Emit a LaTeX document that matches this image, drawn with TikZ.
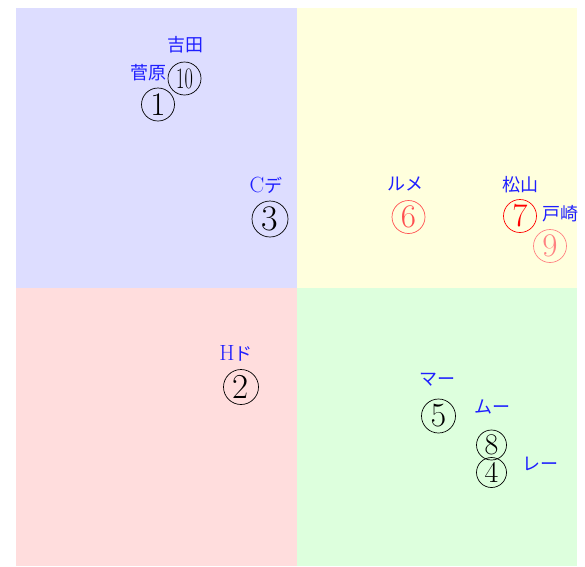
\documentclass[tikz,border=0pt]{standalone}
\usepackage{fontspec}
\newfontfamily\jp{Noto Sans CJK JP}
\definecolor{qblue}{RGB}{221,221,255}
\definecolor{qyellow}{RGB}{255,255,221}
\definecolor{qred}{RGB}{255,221,221}
\definecolor{qgreen}{RGB}{221,255,221}
\definecolor{lblue}{RGB}{30,30,255}
\definecolor{red6}{RGB}{255,80,80}
\definecolor{red9}{RGB}{255,130,130}
\newcommand{\bigLat}[1]{{\fontsize{22}{22}\selectfont #1}}
\tikzset{
  lbl/.style={text=lblue, font=\fontsize{18}{18}\selectfont, inner sep=0pt},
  cnum/.style={circle, draw, line width=0.7pt, inner sep=0pt, minimum size=#1pt,
    font=\fontsize{#1}{#1}\selectfont},
}
\begin{document}
\begin{tikzpicture}[x=1pt,y=-1pt]
\useasboundingbox (0,0) rectangle (585,566);
\fill[qblue] (16,8) rectangle (296.5,287.5);
\fill[qyellow] (296.5,8) rectangle (577,287.5);
\fill[qred] (16,287.5) rectangle (296.5,566);
\fill[qgreen] (296.5,287.5) rectangle (577,566);
% top-left
\node[lbl] (l10) at (185,45) {\jp 吉田};
\node[lbl] (l1) at (148,73) {\jp 菅原};
\node[cnum=33] (n10) at (184.5,78.5) {\scalebox{0.55}[0.9]{10}};
\node[cnum=33] (n1) at (158,104.5) {1};
\node[lbl] (l3) at (266,185) {\bigLat{C}{\jp デ}};
\node[cnum=36] (n3) at (270,219) {3};
% bottom-left
\node[lbl] (l2) at (236,353) {\bigLat{H}{\jp ド}};
\node[cnum=35] (n2) at (241,387) {2};
% top-right
\node[lbl] (l6) at (405,184) {\jp ルメ};
\node[cnum=33, draw=red6, text=red6] (n6) at (408.5,217) {6};
\node[lbl] (l7) at (520,185) {\jp 松山};
\node[cnum=33, draw=red, text=red] (n7) at (520,216) {7};
\node[lbl] (l9) at (560,214) {\jp 戸崎};
\node[cnum=33, draw=red9, text=red9] (n9) at (550,246) {9};
% bottom-right
\node[lbl] (l5) at (437,380) {\jp マー};
\node[cnum=34] (n5) at (438.5,416) {5};
\node[lbl] (l8) at (492,407) {\jp ムー};
\node[cnum=30] (n8) at (491.5,445) {8};
\node[cnum=30] (n4) at (491.5,472.5) {4};
\node[lbl] (l4) at (540,464) {\jp レー};
\end{tikzpicture}
\end{document}
